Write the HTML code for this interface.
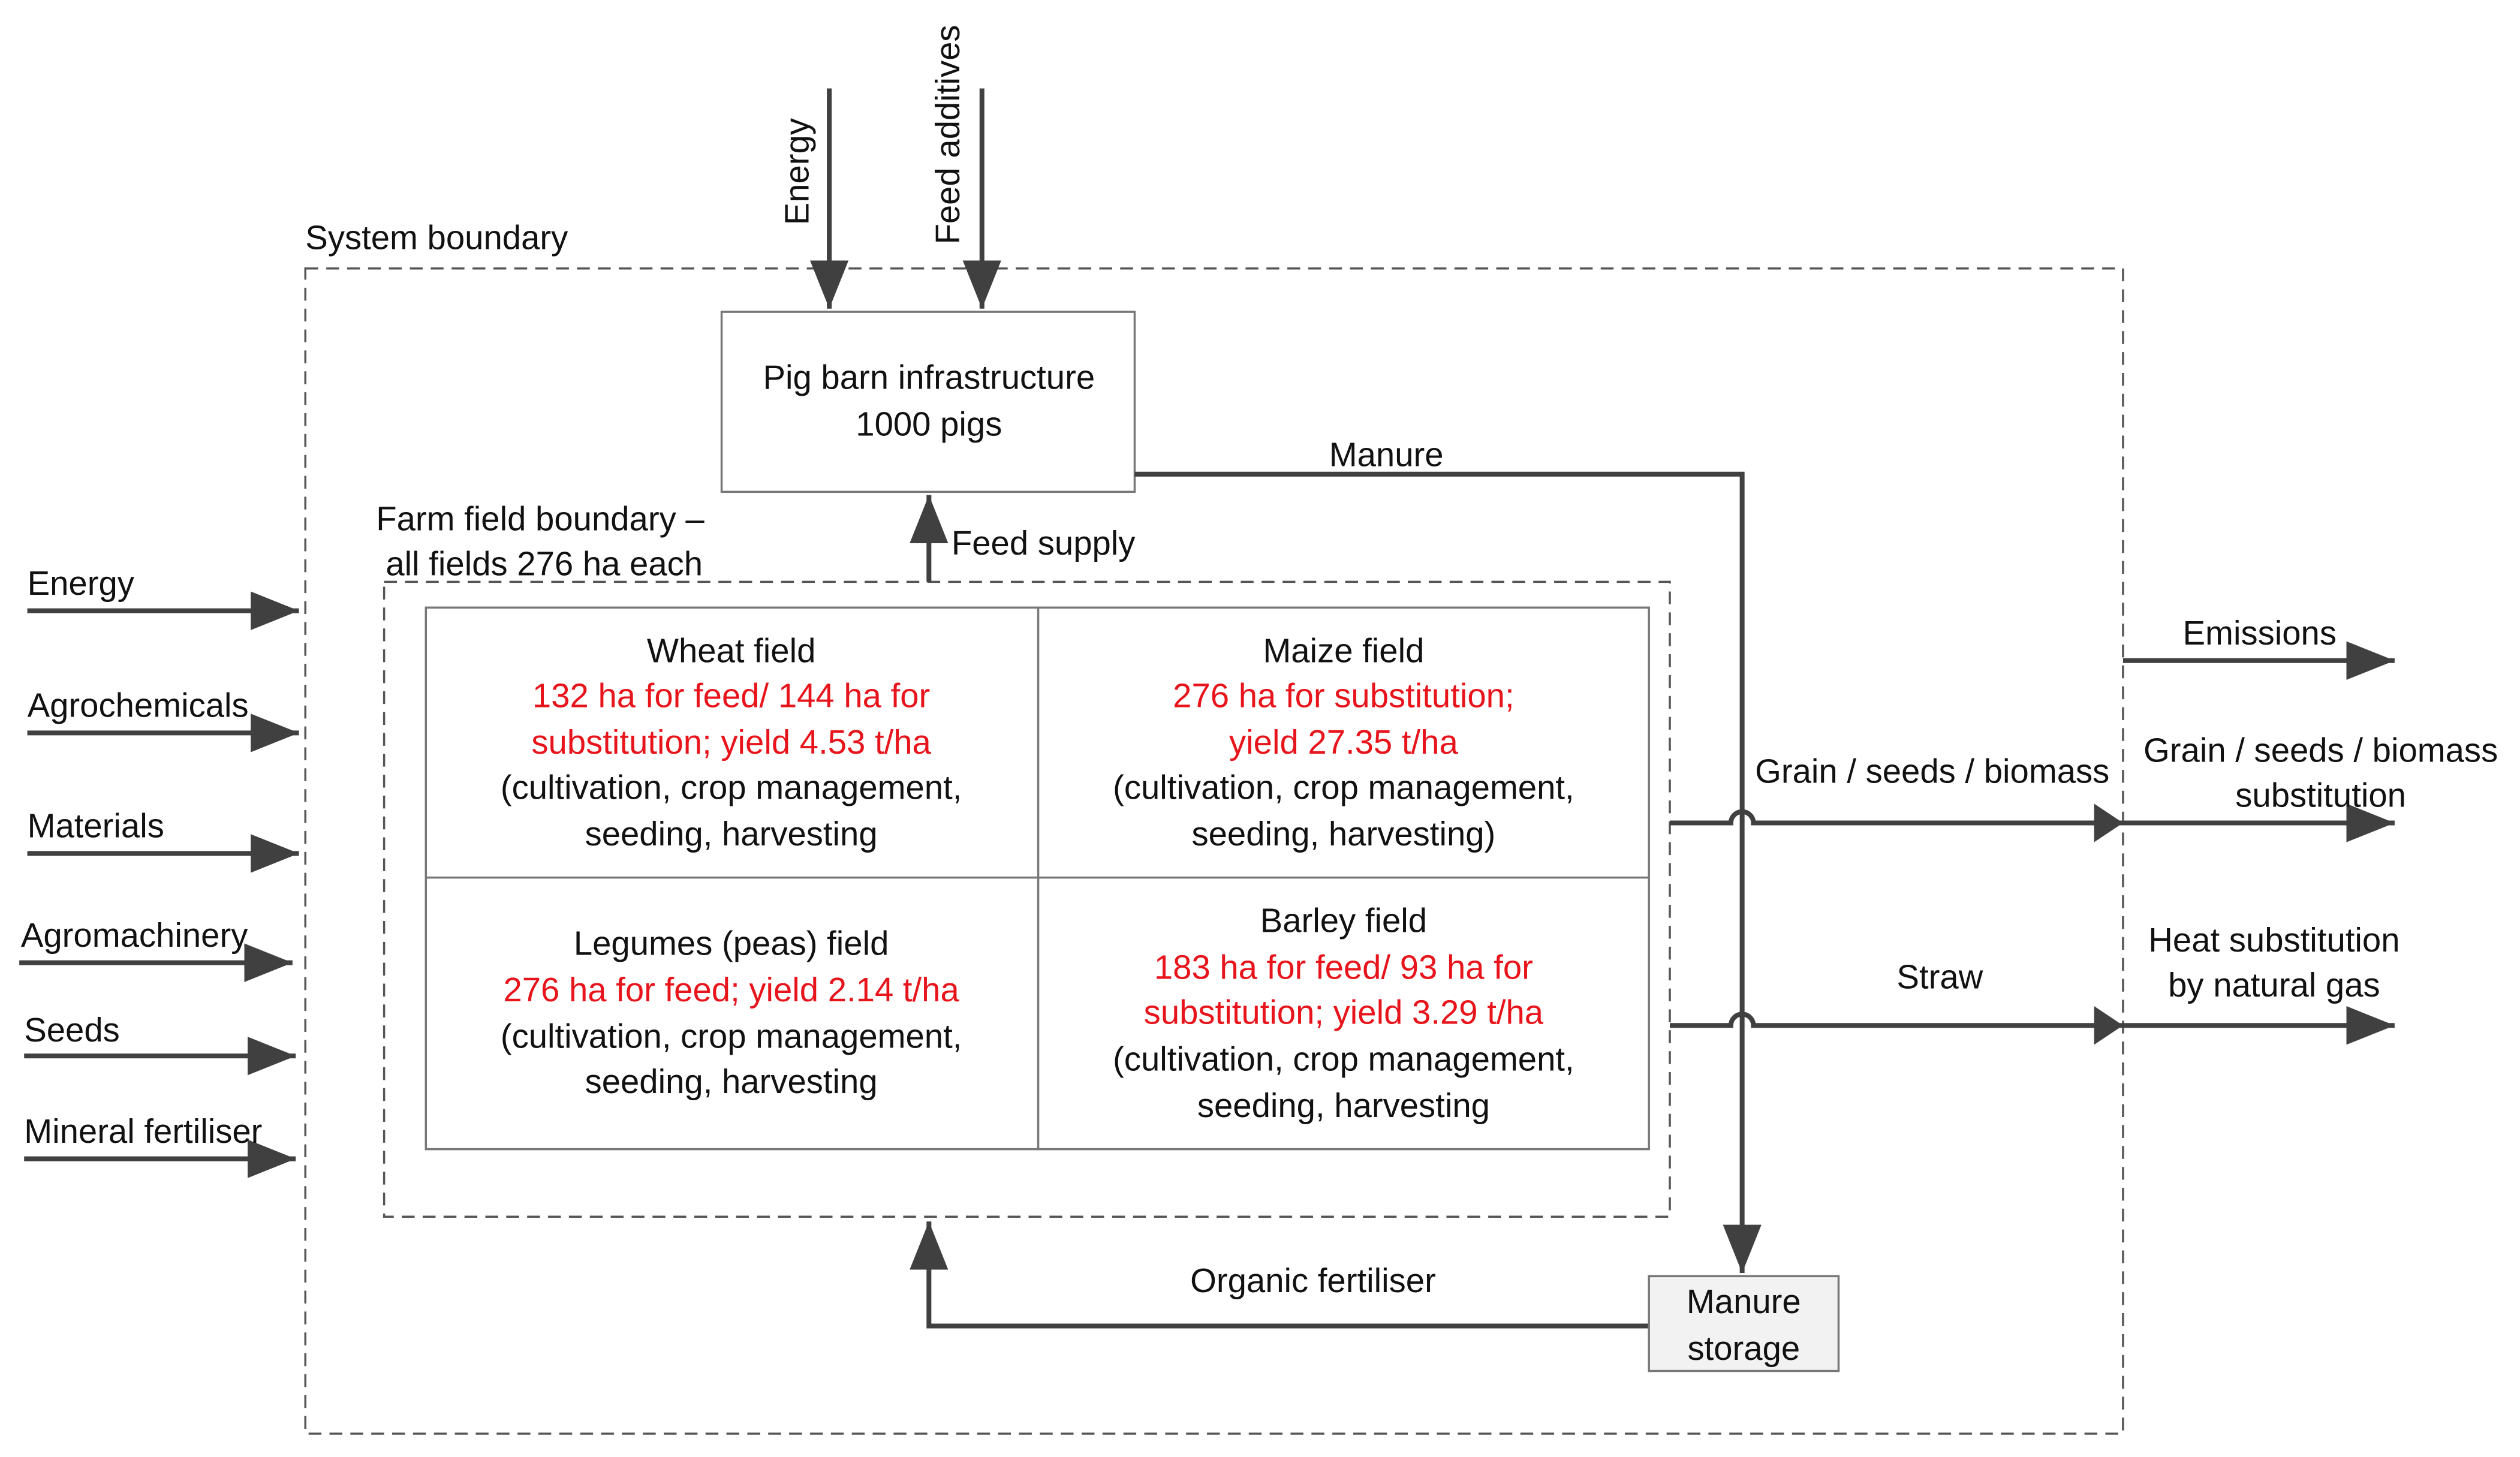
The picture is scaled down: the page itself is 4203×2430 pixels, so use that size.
<!DOCTYPE html>
<html><head><meta charset="utf-8"><style>
html,body{margin:0;padding:0;background:#fff}
svg{display:block}
text{font-family:"Liberation Sans",sans-serif;font-size:21px;fill:#111}
.r{fill:#e8141b}
.c{text-anchor:middle}
</style></head><body>
<svg width="4203" height="2430" viewBox="0 0 1568 906.5" xmlns="http://www.w3.org/2000/svg">
<defs>
<marker id="a" markerWidth="30" markerHeight="24" refX="30" refY="12" orient="auto" markerUnits="userSpaceOnUse"><path d="M0,0 L30,12 L0,24 Z" fill="#404040"/></marker>
<marker id="s" markerWidth="18" markerHeight="24" refX="18" refY="12" orient="auto" markerUnits="userSpaceOnUse"><path d="M0,0 L18,12 L0,24 Z" fill="#404040"/></marker>
</defs>
<g fill="none" stroke="#555" stroke-width="1.3" stroke-dasharray="8,5">
<rect x="190" y="167" width="1131" height="725"/>
<rect x="239" y="362" width="800" height="395"/>
</g>
<text x="190" y="155">System boundary</text>
<rect x="449" y="194" width="257" height="112" fill="#fff" stroke="#777" stroke-width="1.3"/>
<text class="c" x="578" y="242">Pig barn infrastructure</text>
<text class="c" x="578" y="271">1000 pigs</text>
<g stroke="#404040" stroke-width="3" fill="none">
<line x1="516" y1="55" x2="516" y2="192" marker-end="url(#a)"/>
<line x1="611" y1="55" x2="611" y2="192" marker-end="url(#a)"/>
<polyline points="706,295 1084,295 1084,792" marker-end="url(#a)"/>
<line x1="578" y1="362" x2="578" y2="308" marker-end="url(#a)"/>
<polyline points="1026,825 578,825 578,760" marker-end="url(#a)"/>
<path d="M1039,512 H1077 A7,7 0 0 1 1091,512 H1321" marker-end="url(#s)"/>
<path d="M1039,638 H1077 A7,7 0 0 1 1091,638 H1321" marker-end="url(#s)"/>
<line x1="1321" y1="411" x2="1490" y2="411" marker-end="url(#a)"/>
<line x1="1321" y1="512" x2="1490" y2="512" marker-end="url(#a)"/>
<line x1="1321" y1="638" x2="1490" y2="638" marker-end="url(#a)"/>
<line x1="17" y1="380" x2="186" y2="380" marker-end="url(#a)"/>
<line x1="17" y1="456" x2="186" y2="456" marker-end="url(#a)"/>
<line x1="17" y1="531" x2="186" y2="531" marker-end="url(#a)"/>
<line x1="12" y1="599" x2="182" y2="599" marker-end="url(#a)"/>
<line x1="15" y1="657" x2="184" y2="657" marker-end="url(#a)"/>
<line x1="15" y1="721" x2="184" y2="721" marker-end="url(#a)"/>
</g>
<text transform="translate(503,140) rotate(-90)">Energy</text>
<text transform="translate(597,152) rotate(-90)">Feed additives</text>
<text x="827" y="290">Manure</text>
<text x="592" y="345">Feed supply</text>
<text x="234" y="330">Farm field boundary –</text>
<text x="240" y="358">all fields 276 ha each</text>
<rect x="265" y="378" width="761" height="337" fill="#fff" stroke="#777" stroke-width="1.3"/>
<line x1="646" y1="378" x2="646" y2="715" stroke="#777" stroke-width="1.3"/>
<line x1="265" y1="546" x2="1026" y2="546" stroke="#777" stroke-width="1.3"/>
<text class="c" x="455" y="412">Wheat field</text>
<text class="c r" x="455" y="440">132 ha for feed/ 144 ha for</text>
<text class="c r" x="455" y="469">substitution; yield 4.53 t/ha</text>
<text class="c" x="455" y="497">(cultivation, crop management,</text>
<text class="c" x="455" y="526">seeding, harvesting</text>
<text class="c" x="836" y="412">Maize field</text>
<text class="c r" x="836" y="440">276 ha for substitution;</text>
<text class="c r" x="836" y="469">yield 27.35 t/ha</text>
<text class="c" x="836" y="497">(cultivation, crop management,</text>
<text class="c" x="836" y="526">seeding, harvesting)</text>
<text class="c" x="455" y="594">Legumes (peas) field</text>
<text class="c r" x="455" y="623">276 ha for feed; yield 2.14 t/ha</text>
<text class="c" x="455" y="652">(cultivation, crop management,</text>
<text class="c" x="455" y="680">seeding, harvesting</text>
<text class="c" x="836" y="580">Barley field</text>
<text class="c r" x="836" y="609">183 ha for feed/ 93 ha for</text>
<text class="c r" x="836" y="637">substitution; yield 3.29 t/ha</text>
<text class="c" x="836" y="666">(cultivation, crop management,</text>
<text class="c" x="836" y="695">seeding, harvesting</text>
<rect x="1026" y="794" width="118" height="59" fill="#f2f2f2" stroke="#777" stroke-width="1.3"/>
<text class="c" x="1085" y="817">Manure</text>
<text class="c" x="1085" y="846">storage</text>
<text class="c" x="817" y="804">Organic fertiliser</text>
<text x="1092" y="487">Grain / seeds / biomass</text>
<text class="c" x="1207" y="615">Straw</text>
<text class="c" x="1406" y="401">Emissions</text>
<text class="c" x="1444" y="474">Grain / seeds / biomass</text>
<text class="c" x="1444" y="502">substitution</text>
<text class="c" x="1415" y="592">Heat substitution</text>
<text class="c" x="1415" y="620">by natural gas</text>
<text x="17" y="370">Energy</text>
<text x="17" y="446">Agrochemicals</text>
<text x="17" y="521">Materials</text>
<text x="13" y="589">Agromachinery</text>
<text x="15" y="648">Seeds</text>
<text x="15" y="711">Mineral fertiliser</text>
</svg>
</body></html>
